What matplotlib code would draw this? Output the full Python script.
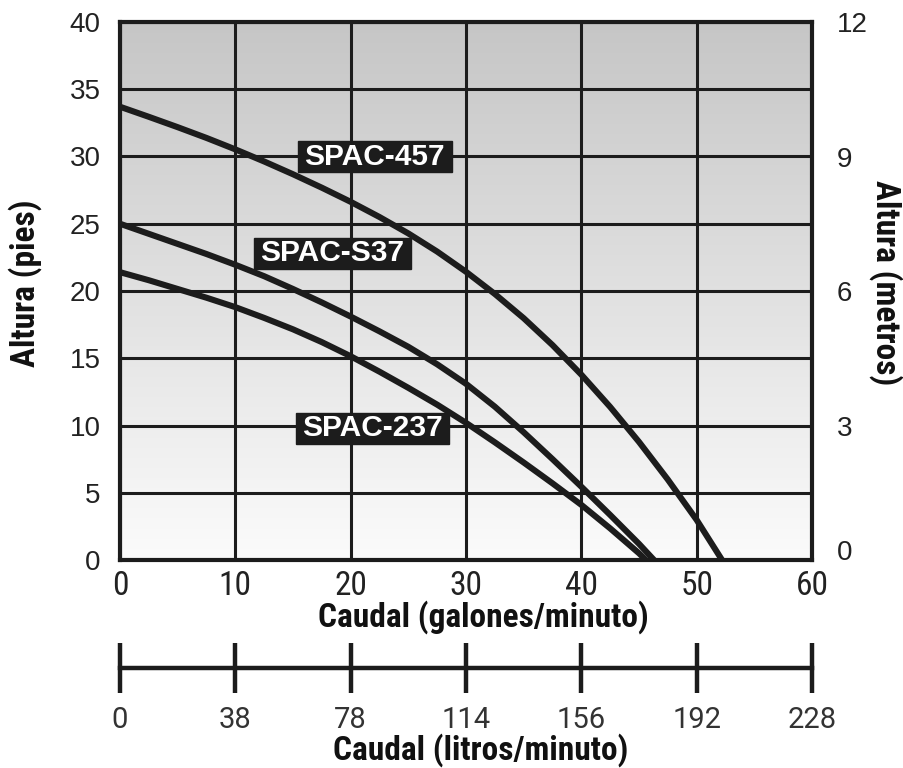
import numpy as np
import matplotlib
matplotlib.use("Agg")
import matplotlib.pyplot as plt
from matplotlib import font_manager as fm
from matplotlib.patches import Rectangle
from matplotlib.transforms import IdentityTransform
from matplotlib.colors import LinearSegmentedColormap

# ---------------- data ----------------
gpm_457 = [0, 2.5, 5, 7.5, 10, 12.5, 15, 17.5, 20, 22.5, 25, 27.5, 30, 32.5, 35,
           37.5, 40, 42.5, 45, 47.5, 50, 52.2]
ft_457 = [33.7, 32.95, 32.18, 31.38, 30.53, 29.63, 28.68, 27.68, 26.63, 25.5,
          24.28, 22.93, 21.43, 19.78, 17.98, 15.98, 13.78, 11.38, 8.78, 5.98, 2.98, 0]

gpm_s37 = [0, 2.5, 5, 7.5, 10, 12.5, 15, 17.5, 20, 22.5, 25, 27.5, 30, 32.5, 35,
           37.5, 40, 42.5, 45, 46.3]
ft_s37 = [25.0, 24.25, 23.5, 22.75, 21.95, 21.1, 20.15, 19.15, 18.1, 17.0, 15.85,
          14.55, 13.1, 11.4, 9.5, 7.5, 5.45, 3.35, 1.2, 0]

gpm_237 = [0, 2.5, 5, 7.5, 10, 12.5, 15, 17.5, 20, 22.5, 25, 27.5, 30, 32.5, 35,
           37.5, 40, 42.5, 45, 45.6]
ft_237 = [21.4, 20.8, 20.15, 19.5, 18.8, 18.0, 17.15, 16.2, 15.15, 14.0, 12.8,
          11.55, 10.2, 8.75, 7.25, 5.7, 4.1, 2.35, 0.5, 0]

series_names = ["SPAC-457", "SPAC-S37", "SPAC-237"]
label_gpm = [22.1, 18.4, 21.9]
label_ft = [30.0, 22.8, 9.8]

gal_ticks = [0, 10, 20, 30, 40, 50, 60]
litros_labels = ["0", "38", "78", "114", "156", "192", "228"]
ft_ticks = [0, 5, 10, 15, 20, 25, 30, 35, 40]
m_ticks = [0, 3, 6, 9, 12]

# ---------------- fonts ----------------
names = {f.name for f in fm.fontManager.ttflist}
narrow = None
for cand in ["Roboto Condensed", "Liberation Sans Narrow", "Open Sans Condensed",
             "DejaVu Sans Condensed"]:
    if cand in names:
        narrow = cand
        break
reg = "Liberation Sans" if "Liberation Sans" in names else "DejaVu Sans"
if narrow is None:
    narrow = reg
    narrow_stretch = "condensed"
else:
    narrow_stretch = "normal"

W, H, DPI = 904, 768, 100
fig = plt.figure(figsize=(W / DPI, H / DPI), dpi=DPI)
fig.patch.set_facecolor("white")

L, R, T, B = 120, 812, 22, 560
ax = fig.add_axes([L / W, (H - B) / H, (R - L) / W, (B - T) / H])
ax.set_xlim(0, 60)
ax.set_ylim(0, 40)

# gradient background
grad = np.linspace(0, 1, 256).reshape(-1, 1)
cmap = LinearSegmentedColormap.from_list("g", ["#fbfbfb", "#c6c6c6"])
ax.imshow(grad, extent=[0, 60, 0, 40], origin="lower", aspect="auto", cmap=cmap,
          zorder=0)

ink = "#1c1c1c"
ax.set_xticks(gal_ticks)
ax.set_yticks(ft_ticks)
ax.grid(True, color=ink, linewidth=2.2, zorder=1)
ax.set_axisbelow(False)
for s in ax.spines.values():
    s.set_linewidth(3.0)
    s.set_color(ink)
    s.set_zorder(5)

ax.tick_params(axis="both", length=0)
ax.tick_params(axis="y", pad=14, labelsize=20, labelcolor="#222222")
ax.tick_params(axis="x", pad=7, labelsize=24, labelcolor="#222222")
for t in ax.get_yticklabels():
    t.set_family(reg)
for t in ax.get_xticklabels():
    t.set_family(narrow)
    t.set_fontstretch(narrow_stretch)

lw = 4.4
for gx, fy in [(gpm_457, ft_457), (gpm_s37, ft_s37), (gpm_237, ft_237)]:
    ax.plot(gx, fy, color=ink, linewidth=lw, solid_capstyle="butt",
            solid_joinstyle="round", zorder=3)

# right axis
axr = ax.twinx()
axr.set_ylim(0, 12)
axr.set_yticks(m_ticks)
axr.tick_params(axis="y", length=0, pad=18, labelsize=20, labelcolor="#222222")
for t in axr.get_yticklabels():
    t.set_family(reg)
axr.get_yticklabels()[0].set_va("baseline")
for s in axr.spines.values():
    s.set_visible(False)

# series labels in black boxes
fig.canvas.draw()
renderer = fig.canvas.get_renderer()
for name, gx, fy in zip(series_names, label_gpm, label_ft):
    t = axr.text(gx, fy * 12 / 40, name, ha="center", va="center", color="white",
                 fontsize=21.5, fontweight="bold", family=reg, zorder=8)
    bb = t.get_window_extent(renderer)
    cx, cy = ax.transData.transform((gx, fy))
    bw = bb.width + 13
    bh = 31
    rect = Rectangle((cx - bw / 2, cy - bh / 2), bw, bh, transform=IdentityTransform(),
                     facecolor="#1c1c1c", edgecolor="#1c1c1c", zorder=7)
    axr.add_artist(rect)

# axis titles
bold_kw = dict(family=narrow, fontstretch=narrow_stretch, fontweight="bold",
               color="#111111")
fig.text(483 / W, 1 - 617 / H, "Caudal (galones/minuto)", ha="center", va="center",
         fontsize=24, **bold_kw)
fig.text(481 / W, 1 - 750 / H, "Caudal (litros/minuto)", ha="center", va="center",
         fontsize=24, **bold_kw)
fig.text(25 / W, 1 - 283 / H, "Altura (pies)", ha="center", va="center",
         rotation=90, fontsize=24, **bold_kw)
fig.text(886 / W, 1 - 283 / H, "Altura (metros)", ha="center", va="center",
         rotation=270, fontsize=24, **bold_kw)

# litros scale
ax2 = fig.add_axes([L / W, (H - 668 - 40) / H, (R - L) / W, 80 / H])
ax2.set_xlim(0, 60)
ax2.set_ylim(0, 1)
ax2.patch.set_visible(False)
for k in ["top", "left", "right"]:
    ax2.spines[k].set_visible(False)
ax2.spines["bottom"].set_position(("axes", 0.5))
ax2.spines["bottom"].set_linewidth(3.2)
ax2.spines["bottom"].set_color(ink)
ax2.set_yticks([])
ax2.set_xticks(gal_ticks)
ax2.set_xticklabels(litros_labels)
ax2.tick_params(axis="x", direction="inout", length=36, width=3.2, color=ink,
                pad=9, labelsize=21, labelcolor="#333333")
for t in ax2.get_xticklabels():
    t.set_family("Roboto" if "Roboto" in names else reg)

fig.savefig("out.png", dpi=DPI)
